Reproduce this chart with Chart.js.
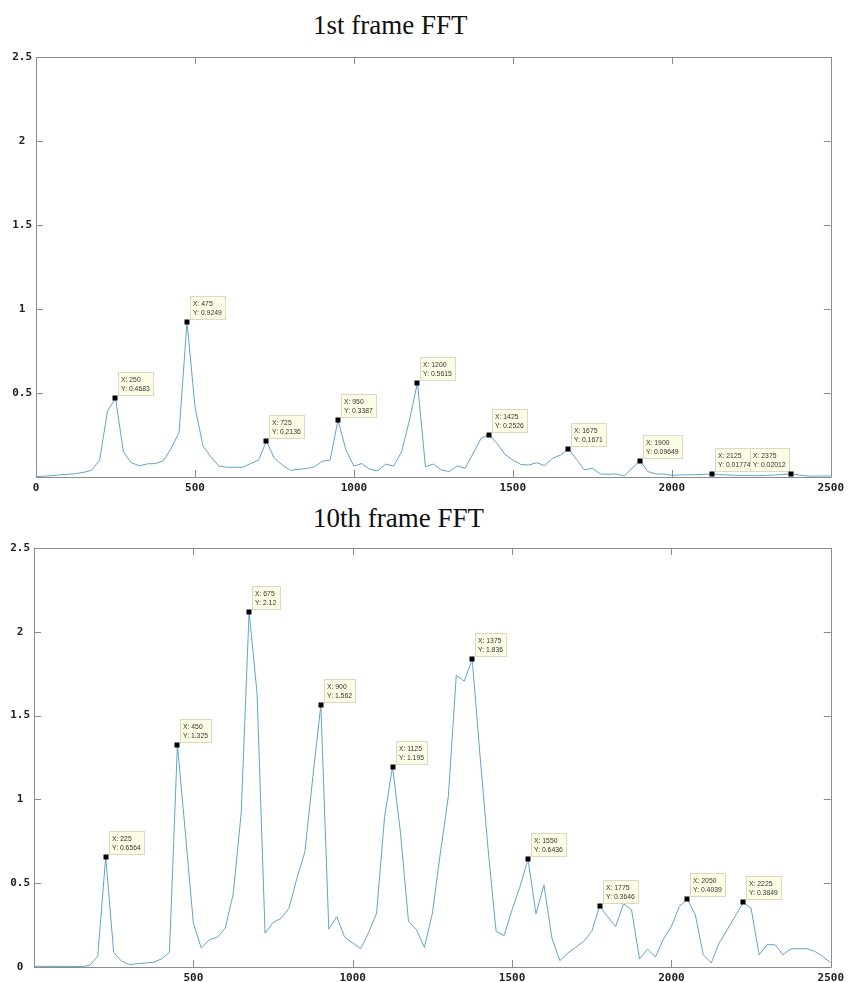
<!DOCTYPE html>
<html>
<head>
<meta charset="utf-8">
<title>Frame FFT</title>
<script src="https://cdn.jsdelivr.net/npm/chart.js@4.4.1/dist/chart.umd.min.js"></script>
<style>
  html, body { margin: 0; padding: 0; background: #fff; }
  body { position: relative; width: 849px; height: 982px; overflow: hidden; }
  canvas { position: absolute; left: 0; }
  .title {
    position: absolute; left: 313px; margin: 0;
    font: 27px "Liberation Serif", "DejaVu Serif", serif; color: #111;
    line-height: 1; white-space: nowrap;
  }
</style>
</head>
<body>
<div class="title" style="top:12px">1st frame FFT</div>
<canvas id="fft1" width="849" height="460" style="top:40px"></canvas>
<div class="title" style="top:505px">10th frame FFT</div>
<canvas id="fft10" width="849" height="447" style="top:535px"></canvas>

<script>
// frequency bins (Hz), one every 25 Hz from 0 to 2500
const BIN_STEP = 25;
const BIN_COUNT = 101;
const freqs = Array.from({ length: BIN_COUNT }, (_, i) => i * BIN_STEP);

// magnitude spectrum of frame 1
const frame1Mag = [
  0.002, 0.005, 0.008, 0.013, 0.015, 0.02, 0.028, 0.04, 0.1, 0.393,
  0.4683, 0.15, 0.085, 0.067, 0.078, 0.08, 0.095, 0.17, 0.264, 0.9249,
  0.42, 0.186, 0.12, 0.065, 0.058, 0.058, 0.058, 0.08, 0.1, 0.2136,
  0.11, 0.072, 0.04, 0.045, 0.05, 0.06, 0.094, 0.1, 0.3387, 0.16,
  0.065, 0.08, 0.045, 0.037, 0.077, 0.065, 0.15, 0.34, 0.5615, 0.061,
  0.077, 0.042, 0.032, 0.066, 0.052, 0.141, 0.23, 0.2526, 0.2, 0.135,
  0.101, 0.075, 0.071, 0.085, 0.068, 0.111, 0.131, 0.1671, 0.105, 0.042,
  0.052, 0.018, 0.016, 0.018, 0.006, 0.052, 0.09649, 0.032, 0.018, 0.018,
  0.01, 0.012, 0.013, 0.014, 0.016, 0.01774, 0.015, 0.012, 0.01, 0.009,
  0.008, 0.008, 0.01, 0.012, 0.015, 0.02012, 0.012, 0.006, 0.005, 0.006,
  0.006
];

// magnitude spectrum of frame 10
const frame10Mag = [
  0.004, 0.004, 0.004, 0.004, 0.004, 0.003, 0.002, 0.01, 0.063, 0.6564,
  0.087, 0.034, 0.014, 0.02, 0.024, 0.028, 0.048, 0.087, 1.325, 0.8,
  0.262, 0.113, 0.163, 0.177, 0.232, 0.435, 0.917, 2.12, 1.63, 0.202,
  0.266, 0.29, 0.351, 0.53, 0.688, 1.135, 1.562, 0.226, 0.3, 0.177,
  0.143, 0.11, 0.206, 0.32, 0.897, 1.195, 0.8, 0.272, 0.222, 0.117,
  0.32, 0.68, 1.016, 1.74, 1.706, 1.836, 1.25, 0.7, 0.212, 0.188,
  0.341, 0.48, 0.6436, 0.317, 0.49, 0.173, 0.038, 0.083, 0.117, 0.153,
  0.212, 0.3646, 0.3, 0.242, 0.377, 0.341, 0.048, 0.107, 0.06, 0.167,
  0.242, 0.361, 0.4039, 0.312, 0.073, 0.024, 0.143, 0.222, 0.302, 0.3849,
  0.351, 0.073, 0.133, 0.133, 0.073, 0.109, 0.109, 0.109, 0.093, 0.063,
  0.024
];

// bins that carry a data tip
const frame1Tips = [250, 475, 725, 950, 1200, 1425, 1675, 1900, 2125, 2375];
const frame10Tips = [225, 450, 675, 900, 1125, 1375, 1550, 1775, 2050, 2225];

const xTicks = [0, 500, 1000, 1500, 2000, 2500];
const yTicks = [0, 0.5, 1, 1.5, 2, 2.5];

const LINE_COLOR = "rgb(98,164,200)";
const FRAME_COLOR = "#8c8c8c";
const TICK_FONT = { family: "'DejaVu Sans Mono', monospace", size: 11, weight: "bold" };
const TIP_SQUEEZE = 0.85;   // tip text is drawn slightly condensed

// matlab-like number display: 4 significant digits
function tipNumber(v) {
  return String(Number(v.toPrecision(4)));
}

// box outline with inward tick marks on all four sides
const boxAxes = {
  id: "boxAxes",
  afterDatasetsDraw(chart) {
    const { ctx, chartArea: a, scales } = chart;
    const len = 7;
    ctx.save();
    ctx.strokeStyle = FRAME_COLOR;
    ctx.lineWidth = 1;
    ctx.beginPath();
    ctx.rect(Math.round(a.left) + 0.5, Math.round(a.top) + 0.5,
             Math.round(a.right - a.left), Math.round(a.bottom - a.top));
    for (const t of scales.x.ticks) {
      const px = Math.round(scales.x.getPixelForValue(t.value)) + 0.5;
      ctx.moveTo(px, a.bottom); ctx.lineTo(px, a.bottom - len);
      ctx.moveTo(px, a.top); ctx.lineTo(px, a.top + len);
    }
    for (const t of scales.y.ticks) {
      const py = Math.round(scales.y.getPixelForValue(t.value)) + 0.5;
      ctx.moveTo(a.left, py); ctx.lineTo(a.left + len, py);
      ctx.moveTo(a.right, py); ctx.lineTo(a.right - len, py);
    }
    ctx.stroke();
    ctx.restore();
  }
};

function squeezedText(ctx, text, x, y) {
  ctx.save();
  ctx.translate(x, y);
  ctx.scale(TIP_SQUEEZE, 1);
  ctx.fillText(text, 0, 0);
  ctx.restore();
}

// data tips: black square on the point, cream label box above it
const dataTips = {
  id: "dataTips",
  afterDraw(chart, args, opts) {
    const { ctx, chartArea: a, scales } = chart;
    const values = chart.data.datasets[0].data;
    ctx.save();
    ctx.font = "8px 'Liberation Sans', Arial, sans-serif";
    ctx.textBaseline = "alphabetic";
    for (const f of opts.bins) {
      const pt = values.find(p => p.x === f);
      const px = scales.x.getPixelForValue(pt.x);
      const py = scales.y.getPixelForValue(pt.y);
      const l1 = "X: " + pt.x;
      const l2 = "Y: " + tipNumber(pt.y);
      const tw = Math.max(ctx.measureText(l1).width, ctx.measureText(l2).width) * TIP_SQUEEZE;
      const w = Math.ceil(tw) + 6;
      const h = 23;
      let bx = Math.round(px + 3);
      if (bx + w > a.right) bx = Math.round(px - 2 - w);
      const by = Math.round(py - 3 - h);
      ctx.fillStyle = "#fdfde6";
      ctx.strokeStyle = "#d9d9c4";
      ctx.lineWidth = 1;
      ctx.fillRect(bx, by, w, h);
      ctx.strokeRect(bx + 0.5, by + 0.5, w, h);
      ctx.fillStyle = "#333";
      squeezedText(ctx, l1, bx + 3, by + 9.5);
      squeezedText(ctx, l2, bx + 3, by + 19);
      ctx.fillStyle = "#000";
      ctx.fillRect(Math.round(px) - 2.5, Math.round(py) - 2.5, 5, 5);
    }
    ctx.restore();
  }
};

function makeFftChart(id, mags, tips, opt) {
  const pts = freqs.map((f, i) => ({ x: f, y: mags[i] }));
  return new Chart(document.getElementById(id), {
    type: "line",
    data: {
      datasets: [{
        data: pts,
        borderColor: LINE_COLOR,
        borderWidth: 1,
        pointRadius: 0,
        tension: 0,
        fill: false
      }]
    },
    options: {
      responsive: false,
      animation: false,
      layout: { padding: { left: 0, right: opt.padRight, top: opt.padTop, bottom: 0 } },
      plugins: {
        legend: { display: false },
        tooltip: { enabled: false },
        dataTips: { bins: tips }
      },
      scales: {
        x: {
          type: "linear",
          min: xTicks[0],
          max: xTicks[xTicks.length - 1],
          afterBuildTicks: s => { s.ticks = xTicks.map(v => ({ value: v })); },
          afterFit: s => { s.height = opt.xHeight; },
          grid: { display: false, drawTicks: false },
          border: { display: false },
          ticks: {
            autoSkip: false, maxRotation: 0, padding: opt.xPad,
            color: "#222", font: TICK_FONT,
            callback: v => (opt.hideX0 && v === 0) ? "" : String(v)
          }
        },
        y: {
          min: yTicks[0],
          max: yTicks[yTicks.length - 1],
          afterBuildTicks: s => { s.ticks = yTicks.map(v => ({ value: v })); },
          afterFit: s => { s.width = opt.yWidth; },
          grid: { display: false, drawTicks: false },
          border: { display: false },
          ticks: {
            padding: 4, crossAlign: "center",
            color: "#222", font: TICK_FONT,
            callback: v => (opt.hideY0 && v === 0) ? "" : String(v)
          }
        }
      }
    },
    plugins: [boxAxes, dataTips]
  });
}

makeFftChart("fft1", frame1Mag, frame1Tips,
  { padTop: 17, padRight: 15, xHeight: 23, yWidth: 36, xPad: 5, hideY0: true, hideX0: false });
makeFftChart("fft10", frame10Mag, frame10Tips,
  { padTop: 13, padRight: 16, xHeight: 15, yWidth: 34, xPad: 5, hideY0: false, hideX0: true });
</script>
</body>
</html>
